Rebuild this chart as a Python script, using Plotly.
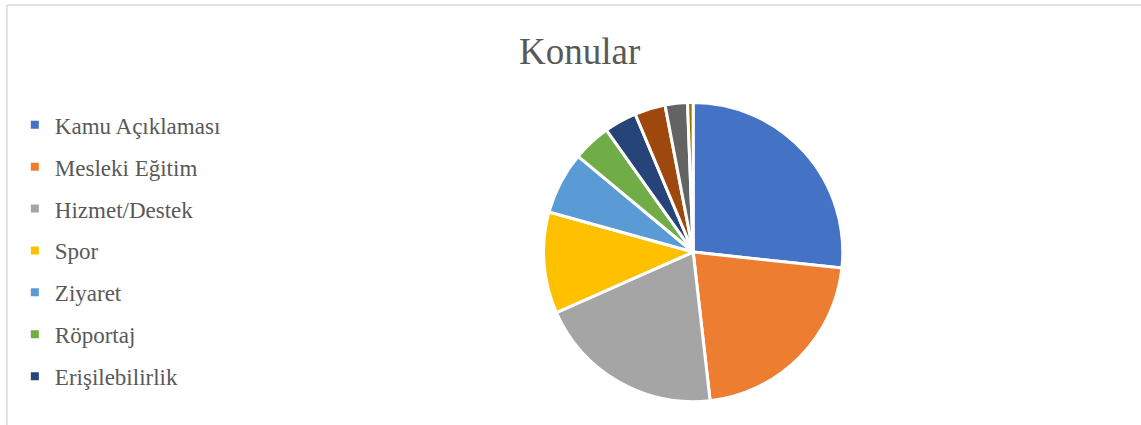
import plotly.graph_objects as go

categories = ["Kamu Açıklaması", "Mesleki Eğitim", "Hizmet/Destek", "Spor", "Ziyaret",
              "Röportaj", "Erişilebilirlik", "Etkinlik", "Kampanya", "Diğer"]
values = [26.6, 21.4, 20.1, 10.9, 6.7, 4.1, 3.5, 3.3, 2.4, 0.6]
colors = ["#4472C4", "#ED7D31", "#A5A5A5", "#FFC000", "#5B9BD5", "#70AD47",
          "#264478", "#9E480E", "#636363", "#997300"]
legend_count = 7  # only the first seven entries fit in the visible legend

FONT = "Liberation Serif, serif"
TXT = "#595959"

fig = go.Figure()
fig.add_trace(go.Pie(
    labels=categories, values=values, sort=False, direction="clockwise", rotation=0,
    marker=dict(colors=colors, line=dict(color="white", width=3)),
    textinfo="none", showlegend=False,
    domain=dict(x=[0.476, 0.739], y=[0.055, 0.759]),
))
for i in range(legend_count):
    fig.add_trace(go.Scatter(
        x=[None], y=[None], mode="markers", name=categories[i],
        legendgroup=f"g{i}",
        marker=dict(symbol="square", size=8, color=colors[i]),
    ))

fig.update_layout(
    width=1141, height=425,
    margin=dict(l=0, r=0, t=0, b=0),
    paper_bgcolor="white", plot_bgcolor="white",
    title=dict(text="Konular", x=0.508, xanchor="center", y=0.88, yanchor="middle",
               font=dict(family=FONT, size=37, color=TXT)),
    xaxis=dict(visible=False), yaxis=dict(visible=False),
    legend=dict(x=0.013, xanchor="left", y=0.757, yanchor="top",
                font=dict(family=FONT, size=23, color=TXT),
                traceorder="grouped", tracegroupgap=9, itemwidth=30,
                bgcolor="rgba(0,0,0,0)"),
    shapes=[
        dict(type="line", xref="paper", yref="paper", x0=0.0061, x1=1.0, y0=0.988, y1=0.988,
             line=dict(color="#D9D9D9", width=1.5)),
        dict(type="line", xref="paper", yref="paper", x0=0.0061, x1=0.0061, y0=0.0, y1=0.988,
             line=dict(color="#D9D9D9", width=1.5)),
    ],
)
fig.write_html("out.html", config={"displayModeBar": False},
               post_script="document.body.style.margin='0';")
